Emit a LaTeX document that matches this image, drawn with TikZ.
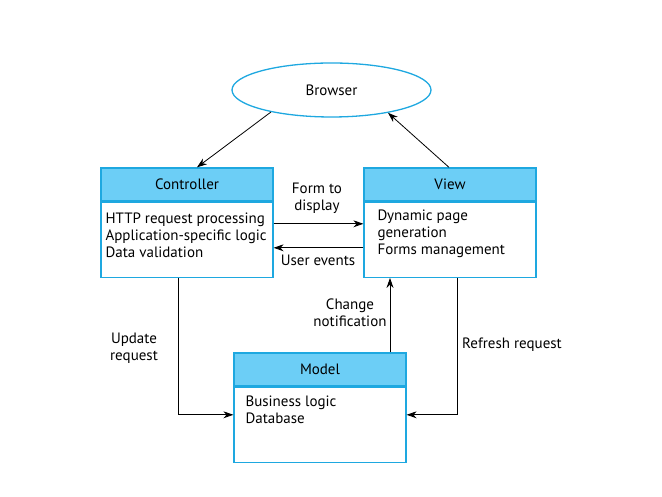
\documentclass[tikz,border=0pt]{standalone}
\usepackage{fontspec}
\setmainfont{PT Sans}
\usetikzlibrary{positioning}
\usetikzlibrary{shapes.geometric}
\usetikzlibrary{arrows.meta}
\definecolor{kopfblau}{RGB}{108,206,246}
\definecolor{randblau}{RGB}{30,168,224}

\tikzset{
  kopf/.style={draw=randblau, line width=1.3pt, fill=kopfblau, minimum width=172pt, minimum height=33pt, inner sep=0pt},
  rumpf/.style={draw=randblau, line width=1.3pt, fill=white, minimum width=172pt, minimum height=75pt, inner sep=0pt, anchor=north},
  inhalt/.style={anchor=north west, align=left, inner sep=0pt},
  pfeil/.style={-{Stealth[length=10pt, width=7pt]}, line width=0.8pt},
  beschr/.style={align=center, inner sep=0pt}
}

\begin{document}
\begin{tikzpicture}[x=1pt, y=1pt, font=\fontsize{15}{17}\selectfont]
\useasboundingbox (0,0) rectangle (662,497);
% ---
\node[ellipse, draw=randblau, line width=1.3pt, minimum width=199pt, minimum height=54pt] (browser) at (331.5,407) {Browser};
% ---
\node[kopf] (ctrlHead) at (187,312.5) {Controller};
\node[rumpf] (ctrlBody) at (ctrlHead.south) {};
\node[inhalt, below right=11pt and 5pt of ctrlBody.north west] (ctrlText) {HTTP request processing\\Application-specific logic\\Data validation};
% ---
\node[kopf] (viewHead) at (450,312.5) {View};
\node[rumpf] (viewBody) at (viewHead.south) {};
\node[inhalt, below right=8pt and 14pt of viewBody.north west] (viewText) {Dynamic page\\generation\\Forms management};
% ---
\node[kopf] (modelHead) at (320,127.5) {Model};
\node[rumpf] (modelBody) at (modelHead.south) {};
\node[inhalt, below right=9pt and 12pt of modelBody.north west] (modelText) {Business logic\\Database};
% ---
\draw[pfeil] (browser.200) -- ([xshift=10pt]ctrlHead.north);
\draw[pfeil] ([xshift=-1pt]viewHead.north) -- (browser.338);
% ---
\draw[pfeil] ([yshift=16pt]ctrlBody.east) -- ([yshift=16pt]viewBody.west);
\draw[pfeil] ([yshift=-8pt]viewBody.west) -- ([yshift=-8pt]ctrlBody.east);
\node[beschr] (formLabel) at (317,299) {Form to\\display};
\node[beschr] (userLabel) at (318,237) {User events};
% ---
\draw[pfeil] ([xshift=-9pt]ctrlBody.south) |- ([yshift=10pt]modelBody.west);
\draw[pfeil] ([xshift=70pt]modelHead.north) -- ([xshift=70pt]modelHead.north |- viewBody.south);
\draw[pfeil] ([xshift=7pt]viewBody.south) |- ([yshift=10pt]modelBody.east);
\node[beschr] (updateLabel) at (134,149) {Update\\request};
\node[beschr] (changeLabel) at (350,184) {Change\\notification};
\node[beschr] (refreshLabel) at (512,152) {Refresh request};

\end{tikzpicture}
\end{document}
